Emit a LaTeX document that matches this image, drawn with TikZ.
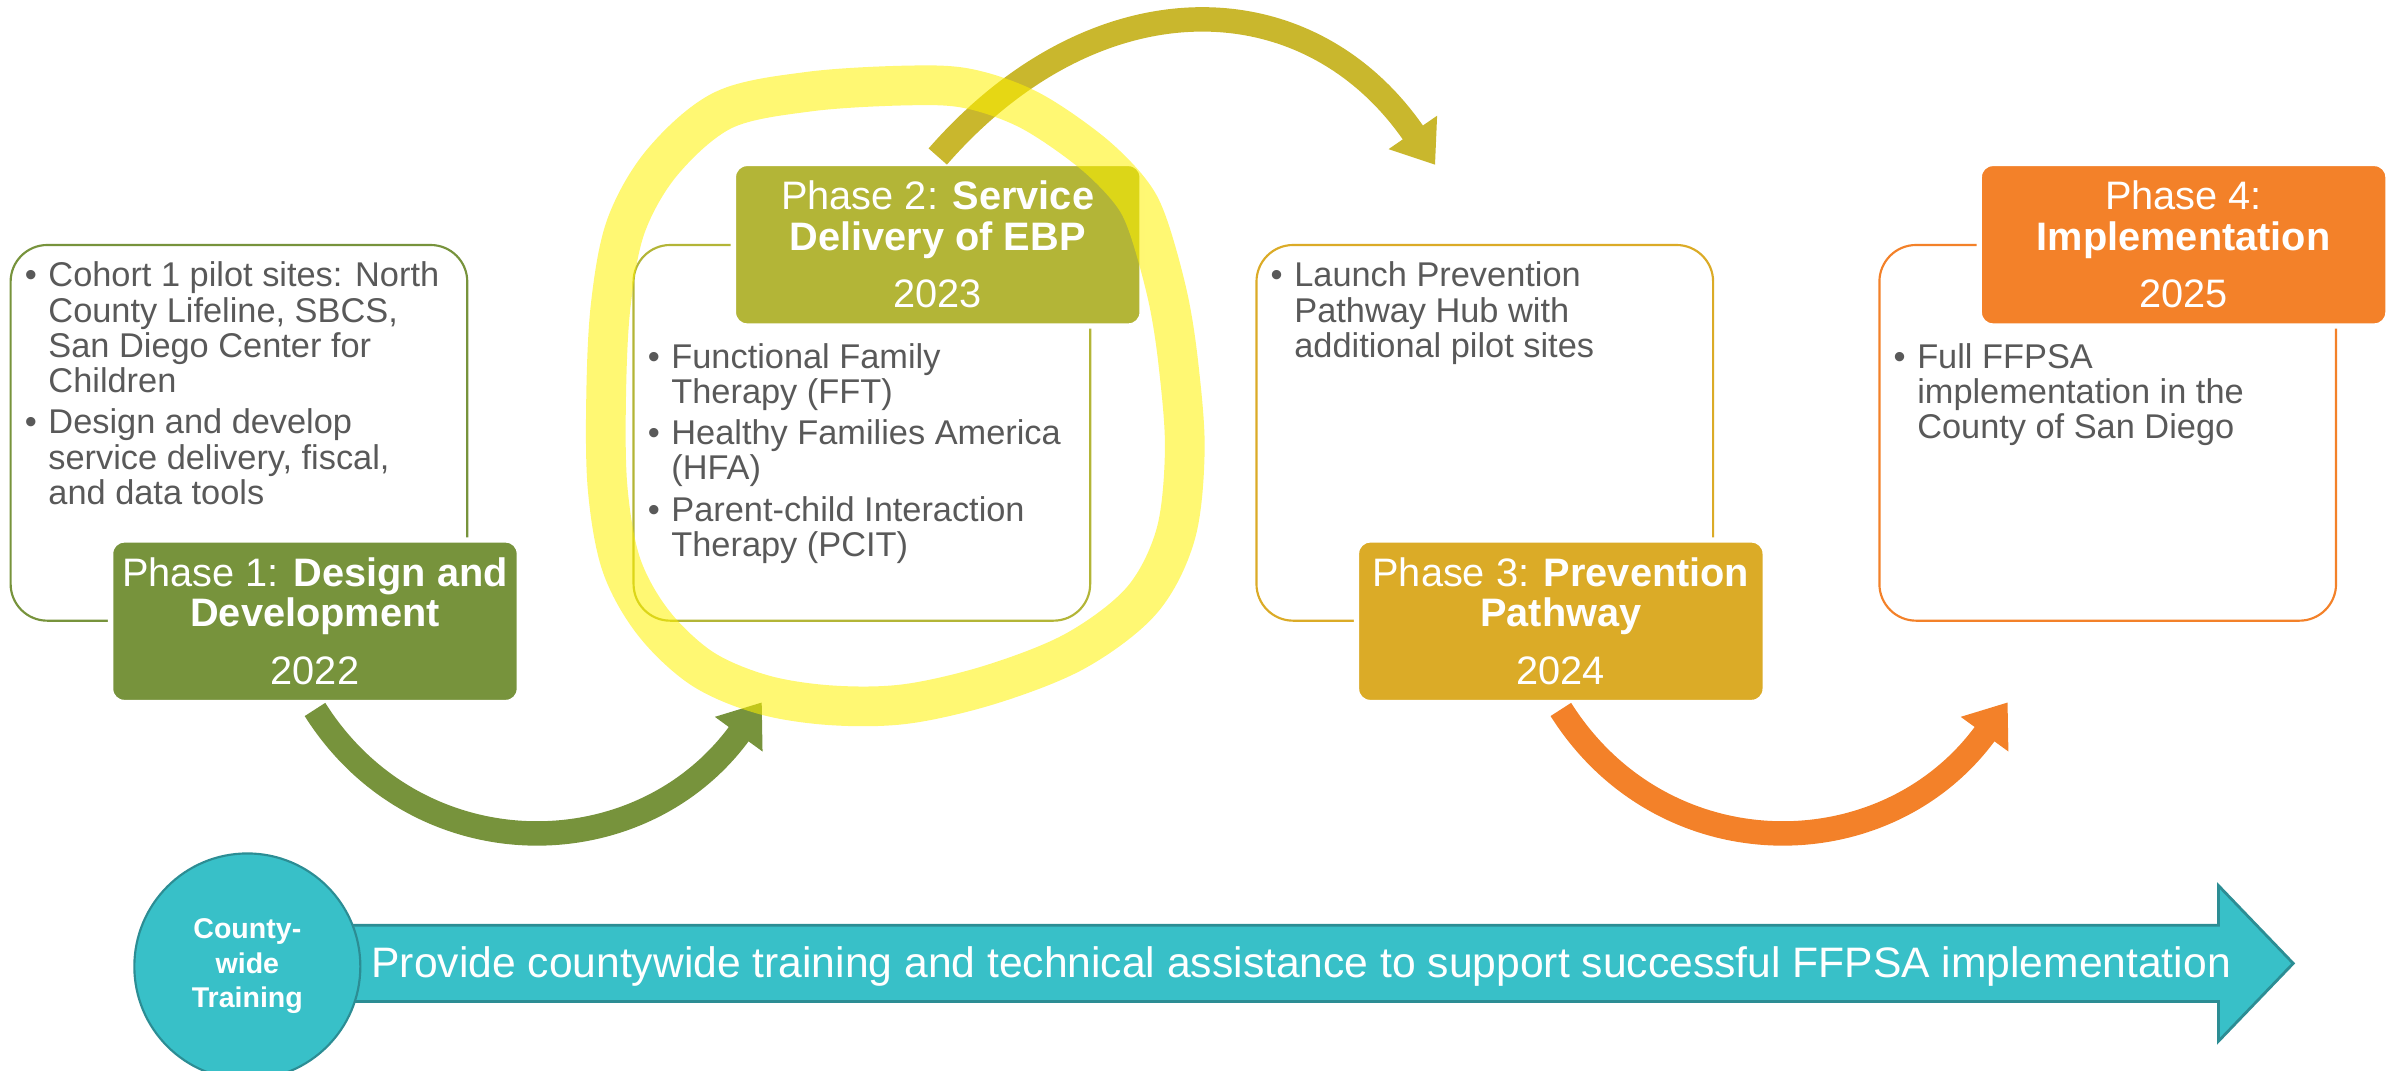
\documentclass[tikz,border=0pt]{standalone}
\usepackage{fontspec}
\setmainfont{Liberation Sans}
\usetikzlibrary{arrows.meta}
\definecolor{phgreen}{HTML}{77933C}
\definecolor{pholive}{HTML}{B3B537}
\definecolor{phgold}{HTML}{DBAB27}
\definecolor{phorange}{HTML}{F38129}
\definecolor{arrolive}{HTML}{C9B72D}
\definecolor{tealfill}{HTML}{38C0C8}
\definecolor{tealedge}{HTML}{2C8D94}
\definecolor{txtgray}{HTML}{595959}
\newcommand\bul{\makebox[11pt][l]{\textbullet}}
\newcommand\ind{\hspace*{11pt}}
\tikzset{
  phbox/.style={draw=#1, line width=1pt, rounded corners=0.6cm, minimum width=7.475cm, minimum height=6.15cm, inner sep=0pt},
  phlabel/.style={fill=#1, draw=white, line width=2.5pt, rounded corners=0.22cm, minimum width=6.69cm, minimum height=2.66cm,
    inner sep=0pt, text=white, align=center, font=\fontsize{18.5}{18.7}\selectfont},
  phtext/.style={anchor=north west, inner sep=0pt, align=left, text=txtgray, font=\fontsize{16}{16.4}\selectfont},
  pharrow/.style={draw=#1, line width=0.4cm, -{Triangle[width=0.92cm,length=0.645cm]}}
}
\begin{document}
\begin{tikzpicture}[x=0.025cm,y=-0.025cm]
  \useasboundingbox (0,0) rectangle (1568,701);
  \node[phbox=phgreen] (b1) at (156.5,283.5) {};
  \node[phbox=pholive] (b2) at (564.5,283.5) {};
  \node[phbox=phgold] (b3) at (972.5,283.5) {};
  \node[phbox=phorange] (b4) at (1380.5,283.5) {};
  \node[phtext] (t1) at (16,171.3) {\bul Cohort 1 pilot sites: North\\\ind County Lifeline, SBCS,\\\ind San Diego Center for\\\ind Children\\[2.85pt]\bul Design and develop\\\ind service delivery, fiscal,\\\ind and data tools};
  \node[phtext] (t2) at (424,224.6) {\bul Functional Family\\\ind Therapy (FFT)\\[2.85pt]\bul Healthy Families America\\\ind (HFA)\\[2.85pt]\bul Parent-child Interaction\\\ind Therapy (PCIT)};
  \node[phtext] (t3) at (832,171.3) {\bul Launch Prevention\\\ind Pathway Hub with\\\ind additional pilot sites};
  \node[phtext] (t4) at (1240,224.6) {\bul Full FFPSA\\\ind implementation in the\\\ind County of San Diego};
  \coordinate (e1) at (499,460);
  \coordinate (e2) at (940,108);
  \coordinate (e3) at (1315,460);
  \node[phlabel=phgreen] (l1) at (206.3,406.9) {Phase 1: \textbf{Design and}\\\textbf{Development}\\[8.3pt]2022};
  \node[phlabel=pholive] (l2) at (614.2,160.3) {Phase 2: \textbf{Service}\\\textbf{Delivery of EBP}\\[8.3pt]2023};
  \node[phlabel=phgold] (l3) at (1022.3,406.9) {Phase 3: \textbf{Prevention}\\\textbf{Pathway}\\[8.3pt]2024};
  \node[phlabel=phorange] (l4) at (1430.2,160.3) {Phase 4:\\\textbf{Implementation}\\[8.3pt]2025};
  \draw[pharrow=phgreen] ([yshift=-2]l1.south) .. controls +(67,106) and +(-80,110) .. (e1);
  \draw[pharrow=arrolive] ([yshift=2]l2.north) .. controls +(103,-118) and +(-84,-122) .. (e2);
  \draw[pharrow=phorange] ([yshift=-2]l3.south) .. controls +(67,106) and +(-80,110) .. (e3);
  \draw[fill=tealfill, draw=tealedge, line width=1.3pt] (200,606) -- (1453,606) -- (1453,580) -- (1502,631)
    -- (1453,682) -- (1453,656) -- (200,656) -- cycle;
  \node[anchor=base west, inner sep=0pt, text=white, font=\fontsize{19.85}{20}\selectfont] (prov) at (243,640.2)
    {Provide countywide training and technical assistance to support successful FFPSA implementation};
  \node[circle, fill=tealfill, draw=tealedge, line width=1pt, minimum size=3.7cm, inner sep=0pt, text=white, align=center,
    font=\bfseries\fontsize{13.3}{16.1}\selectfont] (cw) at (162,633) {County-\\wide\\Training};
  \draw[line width=0.65cm, draw=yellow, draw opacity=0.55, line join=round] plot[smooth cycle, tension=0.55] coordinates {
    (594,56) (530,60) (474,72) (434,106) (410,148) (400,200) (397,260) (398,320) (407,370) (428,408) (460,438)
    (500,455) (545,462) (594,461) (650,448) (705,426) (748,393) (770,350) (776,295) (772,240) (765,195) (752,148)
    (740,125) (714,99) (674,72) (634,58)};
\end{tikzpicture}
\end{document}
